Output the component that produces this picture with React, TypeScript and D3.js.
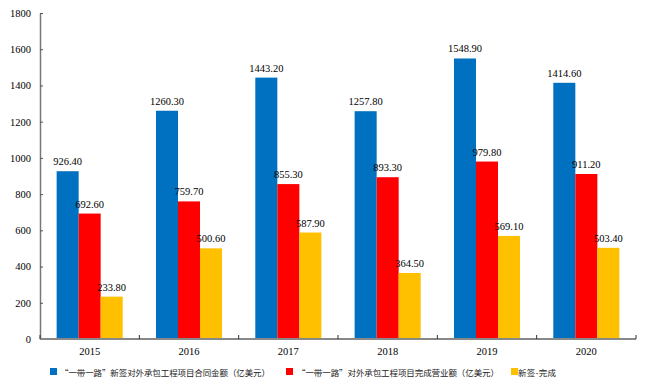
import React, { useEffect, useRef } from 'react';
import * as d3 from 'd3';

const years = ['2015', '2016', '2017', '2018', '2019', '2020'];
const signedValues = [926.4, 1260.3, 1443.2, 1257.8, 1548.9, 1414.6];
const completedValues = [692.6, 759.7, 855.3, 893.3, 979.8, 911.2];
const diffValues = [233.8, 500.6, 587.9, 364.5, 569.1, 503.4];
const seriesNames = [
  '“一带一路”新签对外承包工程项目合同金额（亿美元）',
  '“一带一路”对外承包工程项目完成营业额（亿美元）',
  '新签-完成',
];
const seriesColors = ['#0070C0', '#FF0000', '#FFC000'];
const yTicks = [0, 200, 400, 600, 800, 1000, 1200, 1400, 1600, 1800];

const App: React.FC = () => {
  const svgRef = useRef<SVGSVGElement>(null);

  useEffect(() => {
    if (!svgRef.current) return;
    d3.select(svgRef.current).selectAll('*').remove();

    const width = 659;
    const height = 385;
    const margin = { top: 13, right: 23, bottom: 46, left: 40 };
    const innerW = width - margin.left - margin.right;
    const innerH = height - margin.top - margin.bottom;

    const svg = d3.select(svgRef.current);
    const g = svg.append('g').attr('transform', `translate(${margin.left},${margin.top})`);

    const serif = '"Liberation Serif", "Times New Roman", serif';
    const series = [signedValues, completedValues, diffValues];

    const x = d3.scaleBand<string>().domain(years).range([0, innerW]).paddingInner(0.335).paddingOuter(0.1675);
    const xSub = d3.scaleBand<number>().domain([0, 1, 2]).range([0, x.bandwidth()]);
    const y = d3.scaleLinear().domain([0, 1800]).range([innerH, 0]);

    // bars
    series.forEach((vals, si) => {
      g.append('g')
        .selectAll('rect')
        .data(vals)
        .join('rect')
        .attr('x', (d, i) => (x(years[i]) || 0) + (xSub(si) || 0))
        .attr('y', d => y(d))
        .attr('width', xSub.bandwidth())
        .attr('height', d => innerH - y(d))
        .attr('fill', seriesColors[si]);
    });

    // value labels
    series.forEach((vals, si) => {
      g.append('g')
        .selectAll('text')
        .data(vals)
        .join('text')
        .attr('x', (d, i) => (x(years[i]) || 0) + (xSub(si) || 0) + xSub.bandwidth() / 2)
        .attr('y', d => y(d) - 6)
        .attr('text-anchor', 'middle')
        .attr('font-family', serif)
        .attr('font-size', 10.5)
        .attr('fill', '#000')
        .text(d => d.toFixed(2));
    });

    // y axis
    const yAxis = g.append('g')
      .call(d3.axisLeft(y).tickValues(yTicks).tickFormat(d3.format('d')).tickSize(-3).tickPadding(9).tickSizeOuter(0));
    yAxis.select('.domain').attr('stroke', '#777').attr('stroke-width', 1.5);
    yAxis.selectAll('.tick line').attr('stroke', '#555');
    yAxis.selectAll('.tick text').attr('font-family', serif).attr('font-size', 10.5).attr('fill', '#000');

    // x axis
    const xAxis = g.append('g').attr('transform', `translate(0,${innerH})`);
    xAxis.append('line')
      .attr('x1', 0).attr('x2', innerW)
      .attr('stroke', '#888').attr('stroke-width', 2);
    const step = x.step();
    xAxis.selectAll('line.tk')
      .data(d3.range(years.length + 1))
      .join('line')
      .attr('class', 'tk')
      .attr('x1', i => i * step).attr('x2', i => i * step)
      .attr('y1', 0).attr('y2', -4)
      .attr('stroke', '#333');
    xAxis.selectAll('text')
      .data(years)
      .join('text')
      .attr('x', d => (x(d) || 0) + x.bandwidth() / 2)
      .attr('y', 16)
      .attr('text-anchor', 'middle')
      .attr('font-family', serif)
      .attr('font-size', 10.5)
      .attr('fill', '#000')
      .text(d => d);

    // legend
    const legendPos = [
      { sx: 50, tx: 60, len: 210 },
      { sx: 286, tx: 297, len: 202 },
      { sx: 511, tx: 518, len: 38 },
    ];
    const legend = svg.append('g');
    seriesNames.forEach((name, i) => {
      legend.append('rect')
        .attr('x', legendPos[i].sx).attr('y', 368)
        .attr('width', 7).attr('height', 7)
        .attr('fill', seriesColors[i]);
      legend.append('text')
        .attr('x', legendPos[i].tx).attr('y', 375.5)
        .attr('font-family', '"Noto Sans CJK SC", sans-serif')
        .attr('font-size', 8.5)
        .attr('fill', '#222')
        .attr('textLength', legendPos[i].len)
        .attr('lengthAdjust', 'spacing')
        .text(name);
    });
  }, []);

  return (
    <svg
      ref={svgRef}
      width={659}
      height={385}
      style={{ position: 'absolute', left: 0, top: 0, display: 'block', background: '#fff' }}
    />
  );
};

export default App;
